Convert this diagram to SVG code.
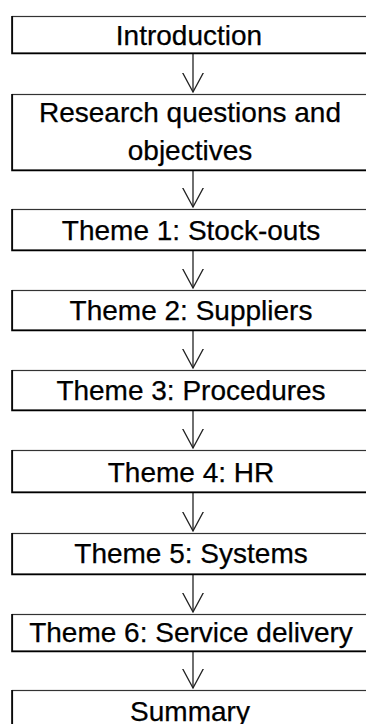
<svg xmlns="http://www.w3.org/2000/svg" width="366" height="724" viewBox="0 0 366 724">
  <style>
    .box { fill: #ffffff; stroke: #333333; stroke-width: 1.2; }
    .edge { fill: none; stroke: #000000; stroke-width: 1.6; }
    .label { font-family: "Liberation Sans", Arial, sans-serif; font-size: 28px; fill: #000000; stroke: #000000; stroke-width: 0.25; text-anchor: middle; }
    .link { fill: none; stroke: #222222; stroke-width: 1.3; }
  </style>
  <defs>
    <!-- open chevron head; drawn along +x so orient="auto" points it down the line -->
    <marker id="vee" viewBox="0 0 20 22" refX="19.5" refY="11" markerWidth="20" markerHeight="22" markerUnits="userSpaceOnUse" orient="auto">
      <path d="M0,0.5 L19.5,11 L0,21.5" fill="none" stroke="#222222" stroke-width="1.3"/>
    </marker>
  </defs>

  <g id="connectors">
    <line class="link" x1="193" y1="54" x2="193" y2="92" marker-end="url(#vee)"/>
    <line class="link" x1="193" y1="171" x2="193" y2="207" marker-end="url(#vee)"/>
    <line class="link" x1="193" y1="251" x2="193" y2="288" marker-end="url(#vee)"/>
    <line class="link" x1="193" y1="331" x2="193" y2="368" marker-end="url(#vee)"/>
    <line class="link" x1="193" y1="411" x2="193" y2="448" marker-end="url(#vee)"/>
    <line class="link" x1="193" y1="493" x2="193" y2="531" marker-end="url(#vee)"/>
    <line class="link" x1="193" y1="575" x2="193" y2="612" marker-end="url(#vee)"/>
    <line class="link" x1="193" y1="652" x2="193" y2="688" marker-end="url(#vee)"/>
  </g>

  <g id="introduction">
    <rect class="box" x="12.5" y="16.5" width="360" height="36.5"/>
    <path class="edge" d="M12,16 V53.5 H372"/>
    <text class="label" x="189" y="45">Introduction</text>
  </g>

  <g id="research-questions">
    <rect class="box" x="12.5" y="94.5" width="360" height="75.5"/>
    <path class="edge" d="M12,94 V170.5 H372"/>
    <text class="label" x="190" y="122">Research questions and</text>
    <text class="label" x="190" y="160">objectives</text>
  </g>

  <g id="theme-1">
    <rect class="box" x="12.5" y="209.5" width="360" height="40.5"/>
    <path class="edge" d="M12,209 V250.5 H372"/>
    <text class="label" x="191" y="240">Theme 1: Stock-outs</text>
  </g>

  <g id="theme-2">
    <rect class="box" x="12.5" y="290.5" width="360" height="39.5"/>
    <path class="edge" d="M12,290 V330.5 H372"/>
    <text class="label" x="191" y="320">Theme 2: Suppliers</text>
  </g>

  <g id="theme-3">
    <rect class="box" x="12.5" y="370.5" width="360" height="39.5"/>
    <path class="edge" d="M12,370 V410.5 H372"/>
    <text class="label" x="191" y="400">Theme 3: Procedures</text>
  </g>

  <g id="theme-4">
    <rect class="box" x="12.5" y="450.5" width="360" height="41.5"/>
    <path class="edge" d="M12,450 V492.5 H372"/>
    <text class="label" x="191" y="482">Theme 4: HR</text>
  </g>

  <g id="theme-5">
    <rect class="box" x="12.5" y="533.5" width="360" height="40.5"/>
    <path class="edge" d="M12,533 V574.5 H372"/>
    <text class="label" x="191" y="563">Theme 5: Systems</text>
  </g>

  <g id="theme-6">
    <rect class="box" x="12.5" y="614.5" width="360" height="36.5"/>
    <path class="edge" d="M12,614 V651.5 H372"/>
    <text class="label" x="191" y="642">Theme 6: Service delivery</text>
  </g>

  <g id="summary">
    <rect class="box" x="12.5" y="690.5" width="360" height="40"/>
    <path class="edge" d="M12,690 V731 H372"/>
    <text class="label" x="190" y="721">Summary</text>
  </g>
</svg>
